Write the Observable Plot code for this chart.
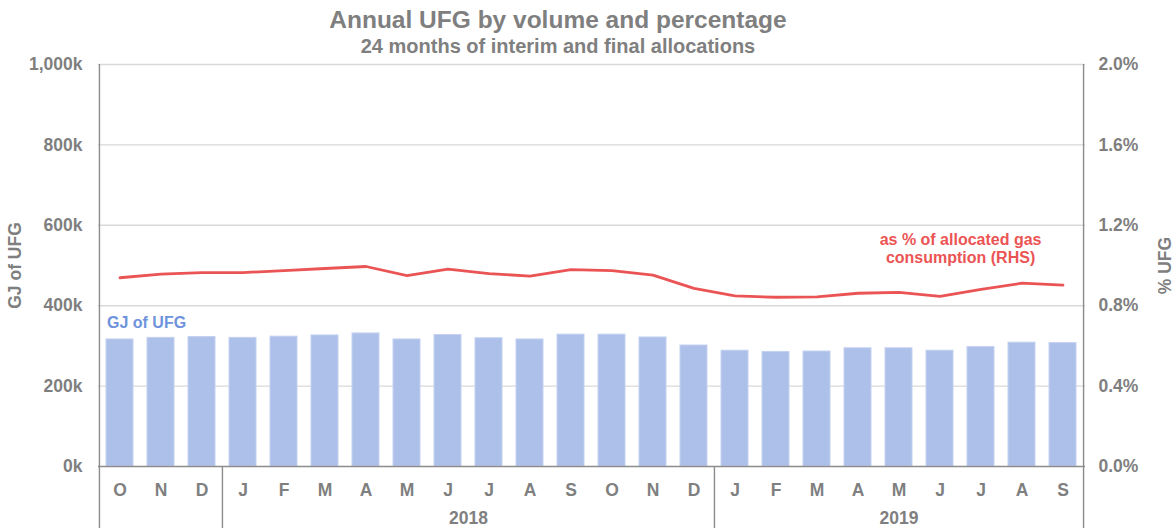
<!DOCTYPE html>
<html>
<head>
<meta charset="utf-8">
<script src="https://cdn.jsdelivr.net/npm/d3@7"></script>
<script src="https://cdn.jsdelivr.net/npm/@observablehq/plot@0.6"></script>
<style>
  html, body { margin: 0; padding: 0; background: #ffffff; }
  #wrap { width: 1176px; height: 528px; position: relative; overflow: hidden; font-family: "Liberation Sans", Arial, sans-serif; }
  #head { height: 56px; position: relative; }
  #title, #subtitle { position: absolute; left: 0; width: 1116px; text-align: center; font-weight: bold; color: #7f7f7f; white-space: nowrap; line-height: 1; }
  #title { top: 8px; font-size: 24.5px; }
  #subtitle { top: 36px; font-size: 20px; }
  #chart svg { display: block; }
</style>
</head>
<body>
<div id="wrap">
  <div id="head">
    <div id="title">Annual UFG by volume and percentage</div>
    <div id="subtitle">24 months of interim and final allocations</div>
  </div>
  <div id="chart"></div>
</div>
<script>
// ---- data ----
const periods = ["2017-10","2017-11","2017-12",
  "2018-01","2018-02","2018-03","2018-04","2018-05","2018-06","2018-07","2018-08","2018-09","2018-10","2018-11","2018-12",
  "2019-01","2019-02","2019-03","2019-04","2019-05","2019-06","2019-07","2019-08","2019-09"];
const monthLetters = ["O","N","D","J","F","M","A","M","J","J","A","S","O","N","D","J","F","M","A","M","J","J","A","S"];
// GJ of UFG (thousands)
const ufgGJk = [316,320,322,320,323,326,331,316,327,319,316,328,328,321,301,288,285,286,294,294,288,297,308,307];
// UFG as % of allocated gas consumption
const ufgPct = [0.939,0.957,0.965,0.965,0.974,0.985,0.995,0.950,0.982,0.960,0.947,0.979,0.975,0.952,0.886,0.849,0.842,0.844,0.862,0.866,0.846,0.881,0.912,0.902];
const yearLabels = ["2018","2019"];
const yearCenterPeriods = ["2018-06","2019-05"]; // 2018 centred between Jun/Jul, 2019 on May
const yearStarts = ["2018-01","2019-01"];
const gjTicks = [0,200000,400000,600000,800000,1000000];

// ---- layout ----
const W = 1176, H = 472, ML = 98, MR = 91, MT = 8, MB = 62;
const step = (W - ML - MR) / periods.length;
const PCT_TO_GJ = 1000000 / 2; // 2.0% on right axis aligns with 1,000k on left
const GRAY = "#7f7f7f", AXIS = "#8c8c8c", GRID = "#d9d9d9";
const BAR = "#adc0ea", LINE = "#eb5454", BLUE = "#6e93dc";
const FONT = "Liberation Sans, Arial, sans-serif";
const FS = 17.5;

const rows = periods.map((p, i) => ({period: p, month: monthLetters[i], gj: ufgGJk[i] * 1000, pct: ufgPct[i]}));
const monthOf = new Map(rows.map(r => [r.period, r.month]));

const chart = Plot.plot({
  width: W, height: H,
  marginLeft: ML, marginRight: MR, marginTop: MT, marginBottom: MB,
  style: {fontFamily: FONT, fontSize: FS + "px", fontWeight: "bold", color: GRAY, background: "#ffffff", overflow: "visible"},
  x: {type: "band", domain: periods, paddingInner: 0.336, paddingOuter: 0.168, label: null},
  y: {domain: [0, 1000000], label: null},
  marks: [
    Plot.ruleY(gjTicks.slice(1), {stroke: GRID, strokeWidth: 1.4}),
    Plot.barY(rows, {x: "period", y: "gj", fill: BAR, stroke: "#c3d1f0", strokeWidth: 1}),
    Plot.line(rows, {x: "period", y: d => d.pct * PCT_TO_GJ, stroke: LINE, strokeWidth: 2.8}),
    Plot.ruleY([0], {stroke: AXIS, strokeWidth: 1.4}),
    // frame sides and year separators
    Plot.ruleX([periods[0]], {x: d => d, dx: -step / 2, insetBottom: -MB, stroke: AXIS, strokeWidth: 1.4}),
    Plot.ruleX([periods[periods.length - 1]], {x: d => d, dx: step / 2, insetBottom: -MB, stroke: AXIS, strokeWidth: 1.4}),
    Plot.ruleX(yearStarts, {x: d => d, y1: 0, y2: 0, dx: -step / 2, insetBottom: -MB, stroke: AXIS, strokeWidth: 1.4}),
    // axes
    Plot.axisY({anchor: "left", ticks: gjTicks, tickSize: 0, tickPadding: 16, label: null,
      tickFormat: d => d3.format(",")(d / 1000) + "k", fontSize: FS, fontWeight: "bold", fill: GRAY}),
    Plot.axisY({anchor: "right", ticks: gjTicks, tickSize: 0, tickPadding: 13, label: null,
      tickFormat: d => (d / PCT_TO_GJ).toFixed(1) + "%", fontSize: FS, fontWeight: "bold", fill: GRAY}),
    Plot.axisX({anchor: "bottom", tickSize: 0, tickPadding: 17, label: null,
      tickFormat: d => monthOf.get(d), fontSize: FS, fontWeight: "bold", fill: GRAY}),
    // year labels
    Plot.text([0], {x: () => yearCenterPeriods[0], text: () => yearLabels[0], frameAnchor: "bottom", dy: 52, dx: step / 2,
      lineAnchor: "middle", fontSize: FS, fontWeight: "bold", fill: GRAY}),
    Plot.text([0], {x: () => yearCenterPeriods[1], text: () => yearLabels[1], frameAnchor: "bottom", dy: 52,
      lineAnchor: "middle", fontSize: FS, fontWeight: "bold", fill: GRAY}),
    // axis titles
    Plot.text(["GJ of UFG"], {text: d => d, frameAnchor: "left", dx: -83, rotate: -90, textAnchor: "middle",
      lineAnchor: "middle", fontSize: FS, fontWeight: "bold", fill: GRAY}),
    Plot.text(["% UFG"], {text: d => d, frameAnchor: "right", dx: 80, rotate: -90, textAnchor: "middle",
      lineAnchor: "middle", fontSize: FS, fontWeight: "bold", fill: GRAY}),
    // series labels
    Plot.text(["GJ of UFG"], {x: () => periods[0], y: () => 357000, text: d => d, textAnchor: "start", dx: -13,
      fontSize: 16, fontWeight: "bold", fill: BLUE}),
    Plot.text(["as % of allocated gas\nconsumption (RHS)"], {x: () => "2019-06", y: () => 542000, text: d => d, dx: step / 2,
      lineHeight: 1.1, fontSize: 16, fontWeight: "bold", fill: LINE})
  ]
});
document.getElementById("chart").appendChild(chart);
</script>
</body>
</html>
